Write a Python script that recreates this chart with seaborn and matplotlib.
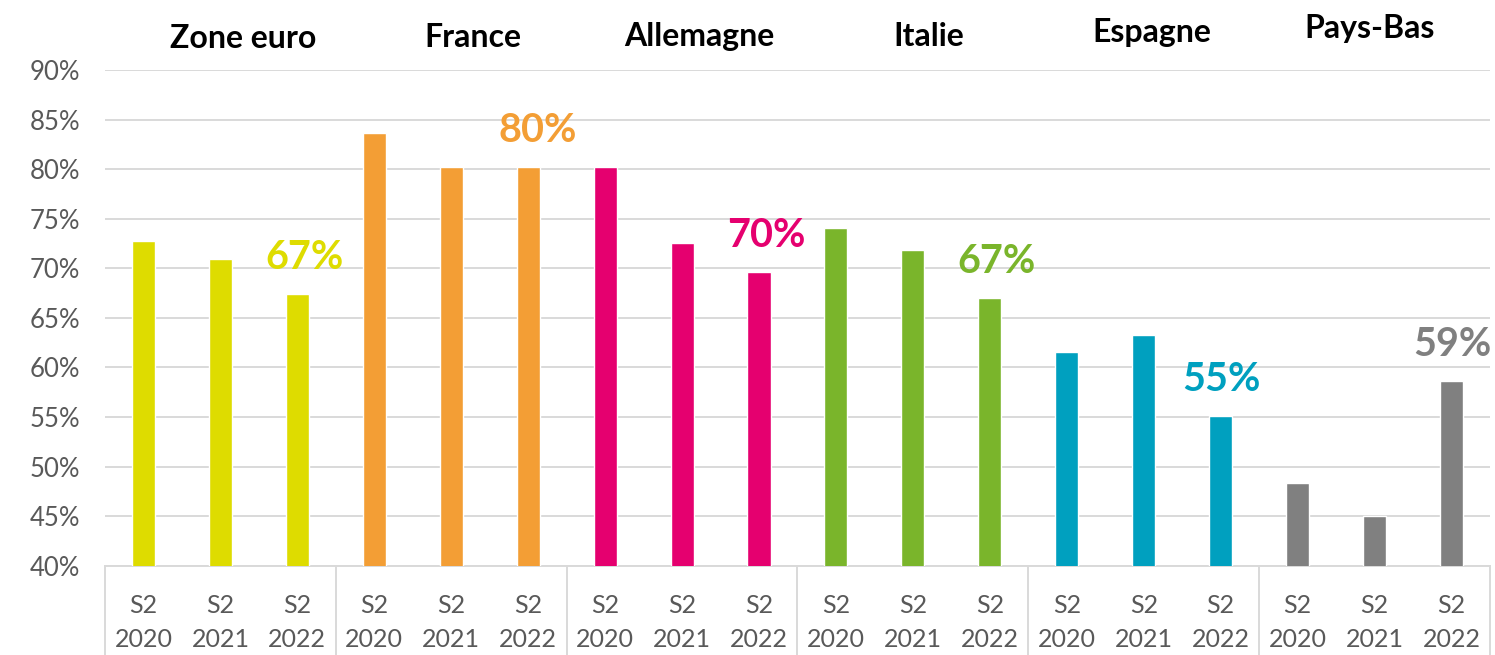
import matplotlib
matplotlib.use("Agg")
import matplotlib.pyplot as plt
import seaborn as sns
import pandas as pd
from matplotlib.lines import Line2D

# ---- data ----
countries = ["Zone euro", "France", "Allemagne", "Italie", "Espagne", "Pays-Bas"]
years = ["2020", "2021", "2022"]
zone_euro = [72.8, 70.9, 67.4]
france = [83.6, 80.2, 80.2]
allemagne = [80.2, 72.6, 69.6]
italie = [74.1, 71.8, 67.0]
espagne = [61.6, 63.3, 55.1]
pays_bas = [48.3, 45.0, 58.6]
label_texts = ["67%", "80%", "70%", "67%", "55%", "59%"]
y_ticks = [40, 45, 50, 55, 60, 65, 70, 75, 80, 85, 90]

# ---- styling / layout ----
colors = ["#DEDC00", "#F39E35", "#E5006F", "#7AB52B", "#00A0BF", "#808080"]
title_dx = [0.29, 0.28, 0.23, 0.21, 0.11, -0.06]
title_y = [92.22, 92.32, 92.42, 92.42, 92.83, 93.23]
label_dx_px = [7, 10, 7, 7, 1, 1]

series = [zone_euro, france, allemagne, italie, espagne, pays_bas]
rows = []
for c, vals in zip(countries, series):
    for y, v in zip(years, vals):
        rows.append({"slot": f"{c}|{y}", "country": c, "year": y, "value": v})
df = pd.DataFrame(rows)
order = list(df["slot"])

sns.set_theme(style="white")
plt.rcParams["font.family"] = ["Lato", "DejaVu Sans"]

fig = plt.figure(figsize=(14.95, 6.55), dpi=100)
ax = fig.add_axes([0.07023, 0.1362, 0.9264, 0.757])

sns.barplot(data=df, x="slot", y="value", hue="country", order=order,
            hue_order=countries, palette=colors, dodge=False, width=0.3,
            legend=False, ax=ax, saturation=1, zorder=3)

ax.set_ylim(40, 90)
ax.set_xlim(-0.5, len(order) - 0.5)
ax.set_yticks(y_ticks)
ax.set_yticklabels([f"{v}%" for v in y_ticks], fontsize=18.5, color="#595959")
ax.set_xticks(range(len(order)))
ax.set_xticklabels([f"S2\n{y}" for y in df["year"]], fontsize=18,
                   color="#595959", linespacing=1.6)
ax.tick_params(axis="y", length=0, pad=18)
ax.tick_params(axis="x", length=0, pad=20)
ax.set_xlabel("")
ax.set_ylabel("")

ax.yaxis.grid(True, color="#D9D9D9", linewidth=1.4, zorder=0)
ax.set_axisbelow(True)
for s in ["left", "right", "top"]:
    ax.spines[s].set_visible(False)
ax.spines["bottom"].set_color("#D9D9D9")
ax.spines["bottom"].set_linewidth(1.4)

# group separators below axis
for b in range(0, len(order) + 1, 3):
    ax.add_line(Line2D([b - 0.5, b - 0.5], [0, -0.2], transform=ax.get_xaxis_transform(),
                       color="#D9D9D9", linewidth=1.4, clip_on=False))

# group titles
for k, c in enumerate(countries):
    ax.text(3 * k + 1 + title_dx[k], title_y[k], c, ha="center", va="baseline",
            fontsize=23, fontweight="bold", color="black", clip_on=False)

# data labels on the 2022 bars
for k, (vals, txt) in enumerate(zip(series, label_texts)):
    ax.annotate(txt, xy=(3 * k + 2, vals[2]), xytext=(label_dx_px[k], 25),
                textcoords="offset pixels", ha="center", va="baseline",
                fontsize=28.5, fontweight="bold", color=colors[k])

fig.savefig("out.png", dpi=100)
